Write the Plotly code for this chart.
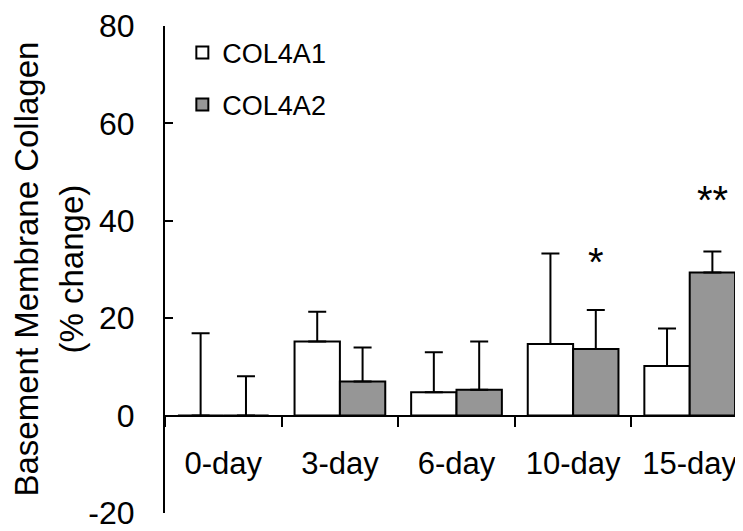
import plotly.graph_objects as go

categories = ["0-day", "3-day", "6-day", "10-day", "15-day"]
col4a1 = [0, 15.2, 4.8, 14.7, 10.2]
col4a1_err = [16.9, 6.1, 8.2, 18.6, 7.7]
col4a2 = [0, 7.0, 5.3, 13.7, 29.4]
col4a2_err = [8.1, 7.0, 9.9, 8.0, 4.3]
y_ticks = [-20, 0, 20, 40, 60, 80]
y_tick_labels = ["-20", "0", "20", "40", "60", "80"]
sig_labels = {"10-day": ("*", 31.6), "15-day": ("**", 44.3)}

FONT = "Liberation Sans, Arial, sans-serif"

fig = go.Figure()
fig.add_trace(go.Bar(
    name="COL4A1", x=categories, y=col4a1, legendgroup="a",
    marker=dict(color="white", line=dict(color="black", width=2)),
    error_y=dict(type="data", symmetric=False, array=col4a1_err,
                 arrayminus=[0] * len(col4a1), color="black", thickness=2, width=9),
))
fig.add_trace(go.Bar(
    name="COL4A2", x=categories, y=col4a2, legendgroup="b",
    marker=dict(color="#969696", line=dict(color="black", width=2)),
    error_y=dict(type="data", symmetric=False, array=col4a2_err,
                 arrayminus=[0] * len(col4a2), color="black", thickness=2, width=9),
))

for cat, (txt, yv) in sig_labels.items():
    idx = categories.index(cat)
    fig.add_annotation(x=idx + 0.1945, y=yv, xref="x", yref="y", text=txt,
                       showarrow=False, font=dict(family=FONT, size=40, color="black"),
                       yanchor="middle")

# two-line y-axis title, placed relative to the plot's left edge (screen x=165)
fig.add_annotation(x=0, y=0.5, xref="paper", yref="paper", xanchor="center", xshift=26 - 165,
                   text="Basement Membrane Collagen", textangle=-90, showarrow=False,
                   font=dict(family=FONT, size=33, color="black"))
fig.add_annotation(x=0, y=0.5, xref="paper", yref="paper", xanchor="center", xshift=71 - 165,
                   text="(% change)", textangle=-90, showarrow=False,
                   font=dict(family=FONT, size=33, color="black"))

# page body has an 8px margin, so the figure is sized 8px smaller than the window
fig.update_layout(
    width=735, height=523,
    margin=dict(l=157, r=0, t=16, b=17),
    paper_bgcolor="white", plot_bgcolor="white",
    barmode="group", bargap=0.222, bargroupgap=0,
    font=dict(family=FONT, size=31, color="black"),
    showlegend=True,
    legend=dict(x=0.03, y=0.995, xanchor="left", yanchor="top",
                font=dict(family=FONT, size=27, color="black"),
                tracegroupgap=14, bgcolor="rgba(0,0,0,0)"),
    xaxis=dict(type="category", range=[-0.5, 4.457], anchor="free", position=0.2,
               showline=True, linecolor="black", linewidth=2,
               ticks="outside", tickson="boundaries", ticklen=10, tickwidth=2,
               tickcolor="black", showgrid=False, zeroline=False,
               tickfont=dict(family=FONT, size=31, color="black"),
               ticklabelstandoff=20, ticklabeloverflow="allow"),
    yaxis=dict(range=[-20, 80], tickvals=y_ticks, ticktext=y_tick_labels,
               showline=True, linecolor="black",
               linewidth=2, ticks="inside", ticklen=8, tickwidth=2, tickcolor="black",
               showgrid=False, zeroline=False,
               tickfont=dict(family=FONT, size=32, color="black"),
               ticklabelstandoff=22, ticklabeloverflow="allow"),
)

fig.write_html("out.html")
